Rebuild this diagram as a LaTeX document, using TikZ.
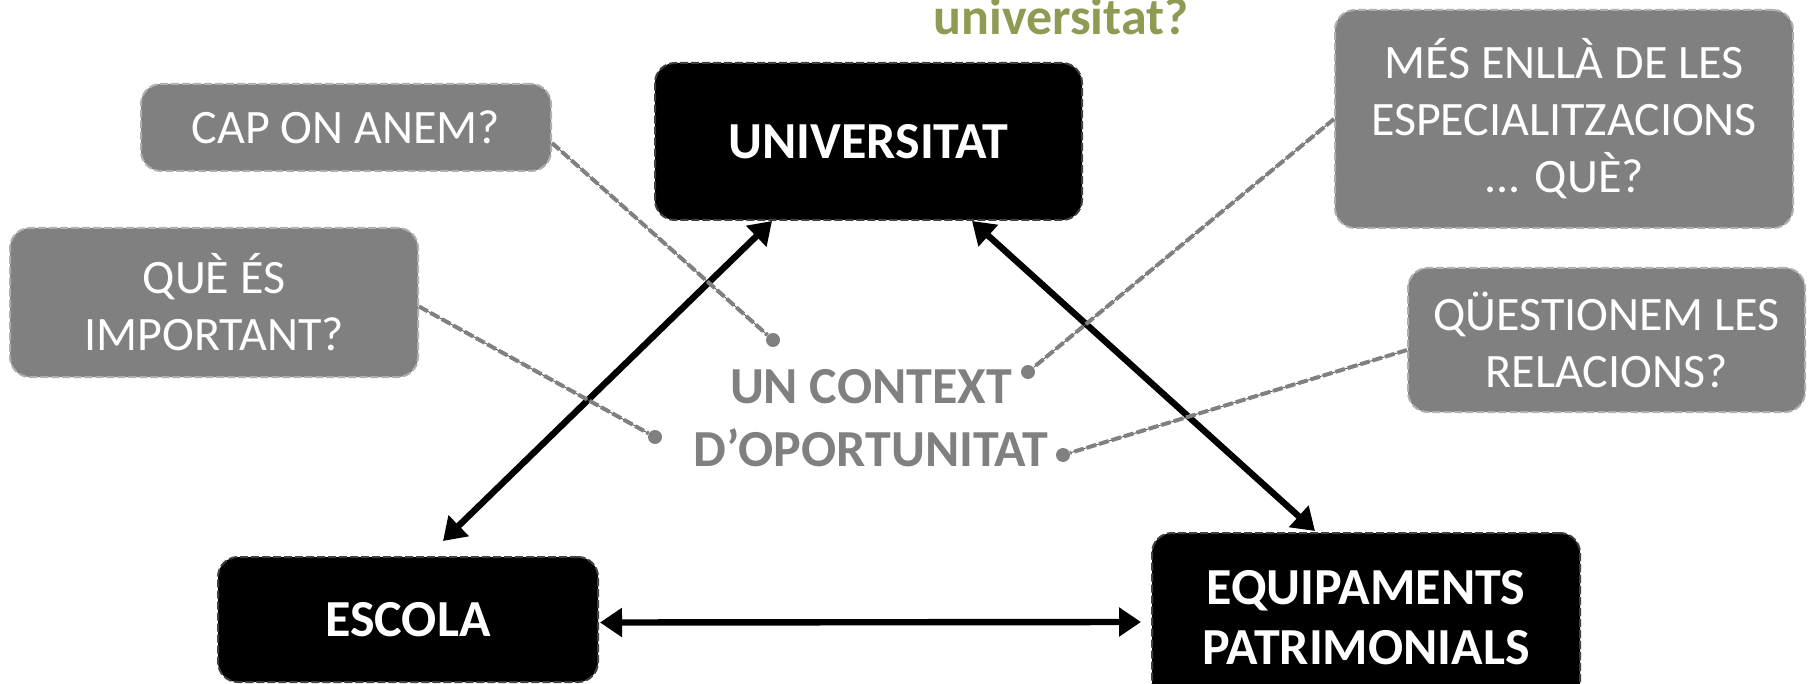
\documentclass[tikz,border=0pt]{standalone}
\usepackage{fontspec}
\setmainfont{Carlito}
\usetikzlibrary{arrows.meta,calc}
\definecolor{ask}{RGB}{128,128,128}
\definecolor{askline}{RGB}{175,175,175}
\definecolor{olive}{RGB}{143,154,82}
\tikzset{
  box/.style={rounded corners=10pt, line width=1pt, dash pattern=on 4pt off 1.5pt,
              align=center, inner sep=0pt},
  mainbox/.style={box, fill=black, draw=black!75, text=white,
                  font=\fontsize{26}{30}\selectfont\bfseries},
  askbox/.style={box, fill=ask, draw=askline, text=white,
                 font=\fontsize{24}{28.5}\selectfont},
  link/.style={{Triangle[length=11pt,width=14pt]}-{Triangle[length=11pt,width=14pt]},
               line width=3.2pt},
  pin/.style={circle, fill=ask, inner sep=0pt, minimum size=7pt},
  lead/.style={preaction={draw=black!70, line width=0.4pt, solid},
               ask, line width=2pt, dash pattern=on 5pt off 1.5pt},
}

\begin{document}
\begin{tikzpicture}[x=0.5pt, y=-0.5pt]
  \useasboundingbox (0,0) rectangle (1810,684);

  % the three actors
  \node[mainbox, minimum width=213.5pt, minimum height=78.5pt] (univ) at (868.5,141.5) {UNIVERSITAT};
  \node[mainbox, minimum width=190pt, minimum height=62.5pt] (escola) at (408,619.5) {ESCOLA};
  \node[mainbox, minimum width=214pt, minimum height=85pt] (equip) at (1366,618) {EQUIPAMENTS\\PATRIMONIALS};

  \draw[link] ($(univ.south)+(-96.5,0)$) -- ($(escola.north)+(35,-15)$);
  \draw[link] ($(univ.south)+(103.5,0)$) -- ($(equip.north)+(-51,-1)$);
  \draw[link] ($(escola.east)+(1,3)$) -- ($(equip.west)+(-10,4)$);

  % centre text and questions
  \node[text=olive, font=\fontsize{26}{30}\selectfont\bfseries, anchor=base] (title) at (1061,34.5) {universitat?};
  \node[text=ask, font=\fontsize{26}{31.5}\selectfont\bfseries, align=center] (ctx) at (871,418) {UN CONTEXT\\D’OPORTUNITAT};

  \node[askbox, minimum width=205pt, minimum height=43.5pt] (cap) at (346,127.5) {CAP ON ANEM?};
  \node[askbox, minimum width=204pt, minimum height=74.5pt] (que) at (214,302.5) {QUÈ ÉS\\IMPORTANT?};
  \node[askbox, minimum width=229pt, minimum height=109pt] (mes) at (1564,119) {MÉS ENLLÀ DE LES\\ESPECIALITZACIONS\\... QUÈ?};
  \node[askbox, minimum width=198.5pt, minimum height=72pt] (ques) at (1606.5,340) {QÜESTIONEM LES\\RELACIONS?};

  \node[pin] (dA) at (773,340) {};
  \node[pin] (dB) at (1028,372) {};
  \node[pin] (dC) at (655,437) {};
  \node[pin] (dD) at (1063,455) {};

  \draw[lead] ($(cap.east)+(0,15.5)$) -- (dA);
  \draw[lead] ($(que.east)+(0,4)$) -- (dC);
  \draw[lead] (mes.west) -- (dB);
  \draw[lead] ($(ques.west)+(0,10)$) -- (dD);
\end{tikzpicture}
\end{document}
